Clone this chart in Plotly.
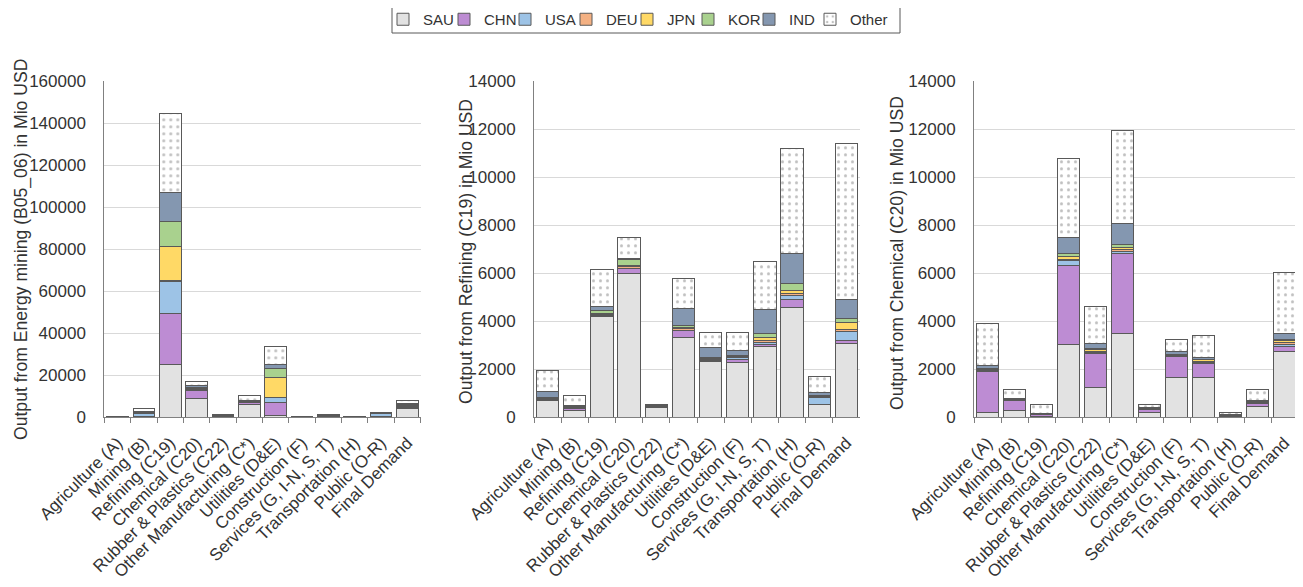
import plotly.graph_objects as go

categories = ["Agriculture (A)", "Mining (B)", "Refining (C19)", "Chemical (C20)",
              "Rubber & Plastics (C22)", "Other Manufacturing (C*)", "Utilities (D&E)",
              "Construction (F)", "Services (G, I-N, S, T)", "Transportation (H)",
              "Public (O-R)", "Final Demand"]
countries = ["SAU", "CHN", "USA", "DEU", "JPN", "KOR", "IND", "Other"]

# Panel 1: Output from Energy mining (B05_06), Mio USD
mining_SAU = [60, 400, 25200, 9050, 300, 5860, 800, 150, 300, 100, 300, 4300]
mining_CHN = [30, 200, 24300, 3480, 150, 1270, 6300, 100, 150, 50, 100, 300]
mining_USA = [20, 1400, 15400, 300, 100, 200, 2100, 50, 100, 50, 1500, 700]
mining_DEU = [5, 50, 300, 300, 50, 150, 200, 20, 50, 20, 30, 100]
mining_JPN = [15, 100, 15900, 500, 100, 200, 9700, 50, 100, 40, 100, 300]
mining_KOR = [15, 100, 12000, 800, 100, 150, 4000, 50, 100, 40, 50, 200]
mining_IND = [20, 400, 14100, 500, 150, 400, 1900, 80, 200, 50, 150, 700]
mining_Other = [35, 1600, 37500, 2100, 150, 2100, 8500, 100, 550, 50, 150, 1600]

# Panel 2: Output from Refining (C19), Mio USD
refining_SAU = [700, 300, 4190, 6000, 420, 3317, 2317, 2292, 2970, 4583, 513, 3080]
refining_CHN = [40, 80, 30, 180, 30, 280, 60, 137, 70, 306, 20, 120]
refining_USA = [30, 20, 40, 40, 10, 40, 40, 50, 80, 180, 280, 380]
refining_DEU = [20, 10, 20, 50, 10, 50, 40, 50, 60, 70, 30, 80]
refining_JPN = [30, 20, 30, 50, 10, 47, 43, 37, 160, 140, 20, 280]
refining_KOR = [20, 20, 140, 260, 10, 100, 10, 30, 150, 280, 50, 180]
refining_IND = [250, 30, 170, 20, 20, 709, 400, 208, 1000, 1280, 100, 790]
refining_Other = [860, 420, 1530, 880, 10, 1221, 615, 738, 1990, 4375, 690, 6500]

# Panel 3: Output from Chemical (C20), Mio USD
chemical_SAU = [221, 292, 40, 3042, 1250, 3500, 200, 1667, 1667, 40, 442, 2733]
chemical_CHN = [1708, 429, 80, 3304, 1388, 3330, 110, 880, 583, 20, 140, 200]
chemical_USA = [30, 20, 10, 180, 60, 70, 20, 15, 40, 10, 30, 120]
chemical_DEU = [20, 10, 5, 70, 50, 80, 10, 15, 30, 5, 20, 60]
chemical_JPN = [30, 20, 10, 100, 60, 87, 10, 10, 80, 10, 30, 80]
chemical_KOR = [33, 11, 10, 141, 67, 154, 10, 10, 20, 10, 15, 50]
chemical_IND = [125, 10, 20, 650, 208, 875, 30, 137, 80, 20, 15, 237]
chemical_Other = [1750, 375, 340, 3280, 1525, 3846, 130, 516, 917, 75, 475, 2562]

y_titles = ["Output from Energy mining (B05_06) in Mio USD",
            "Output from Refining (C19) in Mio USD",
            "Output from Chemical (C20) in Mio USD"]
y_max = [160000, 14000, 14000]
y_dtick = [20000, 2000, 2000]

panels = [
    dict(SAU=mining_SAU, CHN=mining_CHN, USA=mining_USA, DEU=mining_DEU,
         JPN=mining_JPN, KOR=mining_KOR, IND=mining_IND, Other=mining_Other),
    dict(SAU=refining_SAU, CHN=refining_CHN, USA=refining_USA, DEU=refining_DEU,
         JPN=refining_JPN, KOR=refining_KOR, IND=refining_IND, Other=refining_Other),
    dict(SAU=chemical_SAU, CHN=chemical_CHN, USA=chemical_USA, DEU=chemical_DEU,
         JPN=chemical_JPN, KOR=chemical_KOR, IND=chemical_IND, Other=chemical_Other),
]

colors = {"SAU": "#E2E2E2", "CHN": "#BD8CD3", "USA": "#9DC3E6", "DEU": "#F4B183",
          "JPN": "#FFD966", "KOR": "#A9D18E", "IND": "#8497B0", "Other": "#FFFFFF"}

W, H = 1303, 587
OFF = 8  # page body margin in the browser
FONT = "Arial, Liberation Sans, sans-serif"
TXT = "#333333"
x_px = [(104.3, 420.6), (534.0, 860.0), (974.0, 1298.0)]
y_px = (81.3, 417.3)
title_x_px = [21, 466, 897]
title_y_px = [250, 252, 253]


def fx(px):
    return (px - OFF) / W


def fy(py):
    return 1 - (py - OFF) / H


fig = go.Figure()
for i, data in enumerate(panels):
    ax = "" if i == 0 else str(i + 1)
    for c in countries:
        marker = dict(color=colors[c], line=dict(color="#595959", width=1))
        if c == "Other":
            marker["pattern"] = dict(shape=".", fgcolor="#7F7F7F", bgcolor="#FFFFFF",
                                     size=7, solidity=0.15, fillmode="overlay")
        fig.add_trace(go.Bar(
            x=categories, y=data[c], name=c, marker=marker,
            xaxis="x" + ax, yaxis="y" + ax,
            legendgroup=c, showlegend=(i == 0),
        ))
    xd = [fx(x_px[i][0]), fx(x_px[i][1])]
    yd = [fy(y_px[1]), fy(y_px[0])]
    fig.layout["xaxis" + ax] = dict(
        domain=xd, anchor="y" + ax, type="category", tickangle=-45,
        tickson="boundaries", ticks="outside", ticklen=5, tickcolor="#808080",
        showline=True, linecolor="#808080", linewidth=1, showgrid=False,
        automargin=False, ticklabelstandoff=8,
        tickfont=dict(family=FONT, size=17, color=TXT),
    )
    fig.layout["yaxis" + ax] = dict(
        domain=yd, anchor="x" + ax, range=[0, y_max[i]], dtick=y_dtick[i],
        tickformat="d", showline=True, linecolor="#808080", linewidth=1,
        gridcolor="#D9D9D9", gridwidth=1, zeroline=False, ticks="",
        ticklabelstandoff=14, automargin=False,
        tickfont=dict(family=FONT, size=17, color=TXT),
    )
    fig.add_annotation(
        text=y_titles[i], textangle=-90, xref="paper", yref="paper",
        x=fx(title_x_px[i]), y=fy(title_y_px[i]),
        xanchor="center", yanchor="middle", showarrow=False,
        font=dict(family=FONT, size=17.6, color=TXT),
    )

# spacer entry so the last legend label is not clipped
fig.add_trace(go.Bar(x=[categories[0]], y=[0], name=" ", showlegend=True,
                     marker=dict(color="rgba(0,0,0,0)", line=dict(width=0)),
                     hoverinfo="skip"))

# legend frame
fig.add_shape(type="rect", xref="paper", yref="paper",
              x0=fx(392), x1=fx(900), y0=fy(33), y1=fy(2.5),
              line=dict(color="#595959", width=1), fillcolor="rgba(0,0,0,0)")

fig.update_layout(
    width=W, height=H, barmode="stack", bargap=0.18,
    margin=dict(l=0, r=0, t=0, b=0, autoexpand=False),
    paper_bgcolor="white", plot_bgcolor="white",
    font=dict(family=FONT, size=17, color=TXT),
    legend=dict(orientation="h", x=fx(383), xanchor="left", y=fy(3),
                yanchor="top", borderwidth=0, bgcolor="rgba(0,0,0,0)",
                font=dict(family=FONT, size=15, color=TXT),
                traceorder="normal", itemwidth=30,
                entrywidth=16, entrywidthmode="pixels"),
)

fig.write_html("out.html")
